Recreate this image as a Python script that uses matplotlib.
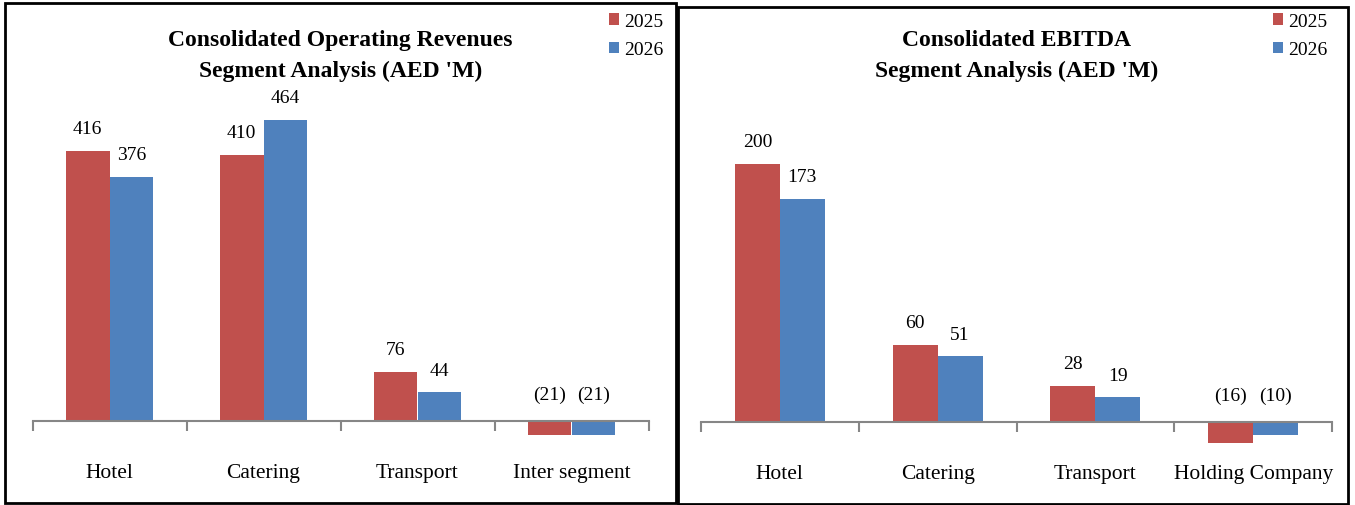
import matplotlib.pyplot as plt
from matplotlib.patches import Rectangle

plt.rcParams['font.family'] = ['Liberation Serif', 'DejaVu Serif']

W, H = 1355, 506

years = ["2025", "2026"]
rev_cats = ["Hotel", "Catering", "Transport", "Inter segment"]
rev_2025 = [416, 410, 76, -21]
rev_2026 = [376, 464, 44, -21]

ebitda_cats = ["Hotel", "Catering", "Transport", "Holding Company"]
ebitda_2025 = [200, 60, 28, -16]
ebitda_2026 = [173, 51, 19, -10]

red = "#C0504D"
blue = "#4F81BD"
grey = "#868686"


def px_axes(fig, x0, x1, top, bottom):
    return fig.add_axes([x0 / W, 1 - bottom / H, (x1 - x0) / W, (bottom - top) / H])


def fmt(v):
    return f"({abs(v)})" if v < 0 else f"{v}"


def draw_panel(ax, cats, s1, s2, ylim, title, leg_x):
    n = len(cats)
    w = 0.285
    xs = list(range(n))
    b1 = ax.bar([x - w / 2 for x in xs], s1, width=w, color=red, label=years[0])
    b2 = ax.bar([x + w / 2 for x in xs], s2, width=w, color=blue, label=years[1])
    for bars, vals in ((b1, s1), (b2, s2)):
        for b, v in zip(bars, vals):
            off = 22 if v >= 0 else 27
            ax.annotate(fmt(v), (b.get_x() + b.get_width() / 2, max(v, 0)),
                        xytext=(0, off), textcoords="offset pixels",
                        ha="center", va="center", fontsize=14)
    ax.set_xlim(-0.5, n - 0.5)
    ax.set_ylim(*ylim)
    for s in ("top", "right", "left"):
        ax.spines[s].set_visible(False)
    ax.spines["bottom"].set_position(("data", 0))
    ax.spines["bottom"].set_color(grey)
    ax.spines["bottom"].set_linewidth(1.5)
    ax.set_yticks([])
    ax.set_xticks([x - 0.5 for x in range(n + 1)])
    ax.set_xticklabels([])
    ax.tick_params(axis="x", which="major", length=7, width=1.5, color=grey, direction="out")
    ax.set_xticks(xs, minor=True)
    ax.set_xticklabels(cats, minor=True, fontsize=15.5)
    ax.tick_params(axis="x", which="minor", length=0, pad=30)
    ax.patch.set_visible(False)
    fig.text((ax.get_position().x0 + ax.get_position().x1) / 2, 1 - 56 / H, title,
             ha="center", va="center", fontsize=17, fontweight="bold", linespacing=1.55)
    ax.legend(loc="upper left", bbox_to_anchor=(leg_x / W, 1 - 6 / H),
              bbox_transform=fig.transFigure, frameon=False, fontsize=14,
              handlelength=0.55, handleheight=0.55, handletextpad=0.25,
              labelspacing=0.6, borderaxespad=0)


fig = plt.figure(figsize=(W / 100, H / 100), dpi=100)

# panel borders
fig.add_artist(Rectangle((5 / W, 1 - 504 / H), 671 / W, 500 / H, transform=fig.transFigure,
                         fill=False, edgecolor="black", linewidth=2))
fig.add_artist(Rectangle((678 / W, 1 - 505 / H), 670 / W, 497 / H, transform=fig.transFigure,
                         fill=False, edgecolor="black", linewidth=2))

ax1 = px_axes(fig, 32.5, 648.5, 110, 460)
draw_panel(ax1, rev_cats, rev_2025, rev_2026, (-58.6, 480.7),
           "Consolidated Operating Revenues\nSegment Analysis (AED 'M)", 601)

ax2 = px_axes(fig, 701, 1332, 110, 460)
draw_panel(ax2, ebitda_cats, ebitda_2025, ebitda_2026, (-28.7, 242.6),
           "Consolidated EBITDA\nSegment Analysis (AED 'M)", 1265)

fig.savefig("out.png", dpi=100)
